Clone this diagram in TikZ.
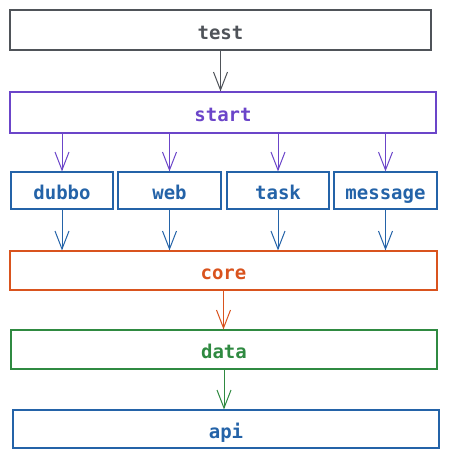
\documentclass[tikz,border=0pt]{standalone}
\usepackage{fontspec}
\setmonofont{DejaVu Sans Mono}
\usetikzlibrary{arrows.meta}
\definecolor{cgray}{HTML}{4F5359}
\definecolor{cpurple}{HTML}{6B45C9}
\definecolor{cblue}{HTML}{2463A8}
\definecolor{corange}{HTML}{D9531E}
\definecolor{cgreen}{HTML}{2F8A41}
\begin{document}
\begin{tikzpicture}[x=1pt,y=-1pt,
  box/.style={draw=#1,text=#1,line width=1.2pt,rectangle,inner sep=0pt,
    text height=18pt,text depth=0pt,
    font=\ttfamily\bfseries\fontsize{19}{22}\selectfont},
  arr/.style={draw=#1,line width=1pt,-{Straight Barb[length=18pt,width=14pt,line width=1pt]}}]
\useasboundingbox (0,0) rectangle (449,458);
\node[box=cgray,minimum width=421pt,minimum height=40pt] (test) at (220.5,30) {test};
\node[box=cpurple,minimum width=426pt,minimum height=41pt] (start) at (223,112.5) {start};
\node[box=cblue,minimum width=102pt,minimum height=37pt] (dubbo) at (62,190.5) {dubbo};
\node[box=cblue,minimum width=103pt,minimum height=37pt] (web) at (169.5,190.5) {web};
\node[box=cblue,minimum width=102pt,minimum height=37pt] (task) at (278,190.5) {task};
\node[box=cblue,minimum width=103pt,minimum height=37pt] (message) at (385.5,190.5) {message};
\node[box=corange,minimum width=427pt,minimum height=39pt] (core) at (223.5,270.5) {core};
\node[box=cgreen,minimum width=426pt,minimum height=39pt] (data) at (224,349.5) {data};
\node[box=cblue,minimum width=426pt,minimum height=38pt] (api) at (226,429) {api};
\draw[arr=cgray] (test.south) -- (test.south |- start.north);
\foreach \n in {dubbo,web,task,message}{
  \draw[arr=cpurple] (\n.north |- start.south) -- (\n.north);
  \draw[arr=cblue] (\n.south) -- (\n.south |- core.north);
}
\draw[arr=corange] (core.south) -- (core.south |- data.north);
\draw[arr=cgreen] (data.south) -- (data.south |- api.north);
\end{tikzpicture}
\end{document}
